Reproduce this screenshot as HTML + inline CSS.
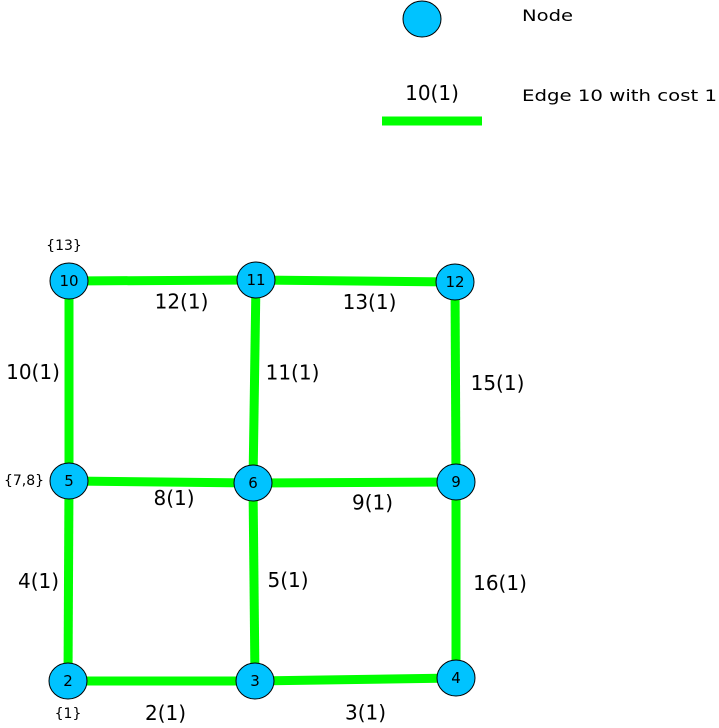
<!DOCTYPE html>
<html><head><meta charset="utf-8"><style>
html,body{margin:0;padding:0;background:#fff;}
svg{display:block;font-family:"DejaVu Sans","Liberation Sans",sans-serif;}
</style></head><body>
<svg id="g" width="719" height="728" viewBox="0 0 719 728">
<g id="legend">
<ellipse cx="422" cy="19" rx="19" ry="18" fill="#00c3ff" stroke="#000" stroke-width="1"/>
<text x="522" y="21" font-size="16" textLength="51" lengthAdjust="spacingAndGlyphs">Node</text>
<text x="432" y="100" font-size="20" text-anchor="middle">10(1)</text>
<line x1="382" y1="121" x2="482" y2="121" stroke="#00ff00" stroke-width="9"/>
<text x="522" y="101" font-size="16" textLength="195" lengthAdjust="spacingAndGlyphs">Edge 10 with cost 1</text>
</g>
<g id="edges"></g>
<g id="nodes"></g>
</svg>
<script>
const nodeIds=[10,11,12,5,6,9,2,3,4];
const nodeX=[69,256,455,69,253,456,68,255,456];
const nodeY=[281,280,282,481,483,482,681,681,678];
const edgeFrom=[10,11,10,11,12,5,6,5,6,9,2,3];
const edgeTo=[11,12,5,6,9,6,9,2,3,4,3,4];
const edgeLabels=["12(1)","13(1)","10(1)","11(1)","15(1)","8(1)","9(1)","4(1)","5(1)","16(1)","2(1)","3(1)"];
const labelDX=[19,14,-36,38,42,13,18,-30,34,44,4,10];
const labelDY=[21,21,-9,-9,1,16,20,0,-2,3,32,33];
const setNodes=[10,5,2];
const setLabels=["{13}","{7,8}","{1}"];
const setDX=[-5,-45,0];
const setDY=[-36,-1,32];
const NS="http://www.w3.org/2000/svg";
const eg=document.getElementById('edges'),ng=document.getElementById('nodes');
function pos(id){const i=nodeIds.indexOf(id);return [nodeX[i],nodeY[i]];}
edgeFrom.forEach((f,i)=>{
 const a=pos(f),b=pos(edgeTo[i]);
 const l=document.createElementNS(NS,'line');
 l.setAttribute('x1',a[0]);l.setAttribute('y1',a[1]);l.setAttribute('x2',b[0]);l.setAttribute('y2',b[1]);
 l.setAttribute('stroke','#00ff00');l.setAttribute('stroke-width','9');
 
 
 eg.appendChild(l);
 const t=document.createElementNS(NS,'text');
 const mx=(a[0]+b[0])/2,my=(a[1]+b[1])/2;
 t.setAttribute('x',mx+labelDX[i]);t.setAttribute('y',my+labelDY[i]+7);
 t.setAttribute('font-size','20');t.setAttribute('text-anchor','middle');
 t.textContent=edgeLabels[i];
 
 
 eg.appendChild(t);
});
nodeIds.forEach((id,i)=>{
 const e=document.createElementNS(NS,'ellipse');
 e.setAttribute('cx',nodeX[i]);e.setAttribute('cy',nodeY[i]);e.setAttribute('rx','19');e.setAttribute('ry','18');
 e.setAttribute('fill','#00c3ff');e.setAttribute('stroke','#000');e.setAttribute('stroke-width','1');
 
 
 ng.appendChild(e);
 const t=document.createElementNS(NS,'text');
 t.setAttribute('x',nodeX[i]);t.setAttribute('y',nodeY[i]+5);
 t.setAttribute('font-size','15');t.setAttribute('text-anchor','middle');
 t.textContent=id;
 
 
 ng.appendChild(t);
});
setNodes.forEach((id,i)=>{
 const p=pos(id);
 const t=document.createElementNS(NS,'text');
 t.setAttribute('x',p[0]+setDX[i]);t.setAttribute('y',p[1]+setDY[i]+5);
 t.setAttribute('font-size','14');t.setAttribute('text-anchor','middle');
 t.textContent=setLabels[i];
 
 
 ng.appendChild(t);
});
</script>
</body></html>
